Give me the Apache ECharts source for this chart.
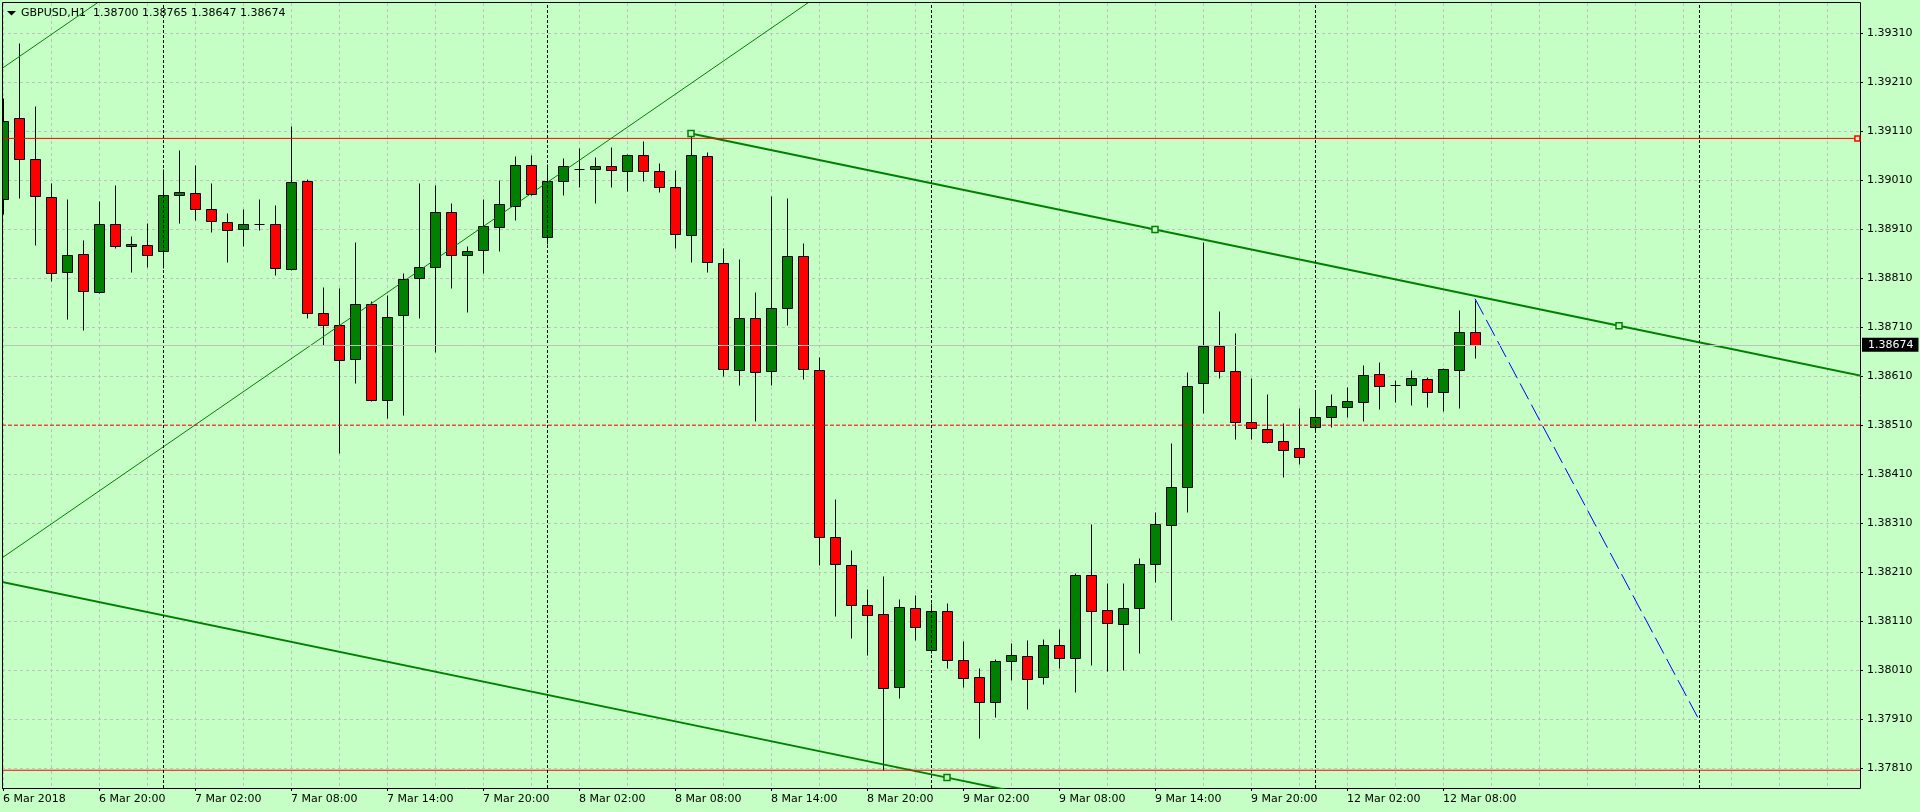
<!DOCTYPE html>
<html><head><meta charset="utf-8">
<script src="https://cdn.jsdelivr.net/npm/echarts@6/dist/echarts.min.js"></script>
<style>html,body{margin:0;padding:0;background:#C6FFC6;} #c{width:1920px;height:812px;}</style>
</head><body><div id="c"></div>
<script>
// ---- data ----
const symbolName = 'GBPUSD,H1';
// hourly bars from 6 Mar 2018 14:00 (index 0) to 12 Mar 2018 10:00 (index 92)
const opens = [1.38971,1.39137,1.39052,1.38976,1.38823,1.38860,1.38782,1.38921,1.38876,1.38878,
1.38866,1.38980,1.38984,1.38951,1.38925,1.38911,1.38920,1.38921,1.38829,1.39009,
1.38739,1.38715,1.38645,1.38758,1.38562,1.38735,1.38811,1.38833,1.38945,1.38858,
1.38868,1.38915,1.38957,1.39041,1.38894,1.39009,1.39033,1.39033,1.39039,1.39029,
1.39062,1.39029,1.38996,1.38898,1.39060,1.38841,1.38623,1.38729,1.38621,1.38749,
1.38856,1.38623,1.38281,1.38224,1.38144,1.38124,1.37975,1.38138,1.38052,1.38130,
1.38030,1.37997,1.37946,1.38028,1.38040,1.37997,1.38062,1.38034,1.38205,1.38132,
1.38105,1.38136,1.38226,1.38307,1.38383,1.38596,1.38671,1.38620,1.38516,1.38503,
1.38478,1.38464,1.38507,1.38527,1.38547,1.38558,1.38615,1.38592,1.38592,1.38605,
1.38578,1.38623,1.38700];
const highs = [1.39177,1.39290,1.39162,1.39003,1.38971,1.38887,1.38967,1.38999,1.38895,1.38922,
1.39032,1.39071,1.39040,1.39005,1.38942,1.38950,1.38971,1.38960,1.39120,1.39013,
1.38792,1.38790,1.38884,1.38763,1.38775,1.38821,1.39005,1.38999,1.38964,1.38875,
1.38971,1.39011,1.39060,1.39062,1.39043,1.39054,1.39076,1.39058,1.39078,1.39064,
1.39090,1.39045,1.39031,1.39105,1.39068,1.38872,1.38849,1.38782,1.38978,1.38974,
1.38882,1.38649,1.38359,1.38255,1.38175,1.38202,1.38155,1.38163,1.38148,1.38148,
1.38069,1.38015,1.38032,1.38065,1.38071,1.38073,1.38094,1.38209,1.38308,1.38187,
1.38189,1.38240,1.38332,1.38474,1.38618,1.38884,1.38743,1.38698,1.38607,1.38573,
1.38515,1.38544,1.38578,1.38573,1.38587,1.38632,1.38639,1.38603,1.38622,1.38609,
1.38627,1.38745,1.38765];
const lows = [1.38940,1.38973,1.38877,1.38804,1.38726,1.38705,1.38780,1.38871,1.38822,1.38832,
1.38830,1.38922,1.38928,1.38904,1.38843,1.38875,1.38909,1.38816,1.38826,1.38728,
1.38673,1.38454,1.38596,1.38559,1.38525,1.38530,1.38728,1.38659,1.38790,1.38741,
1.38821,1.38865,1.38928,1.38980,1.38879,1.38979,1.38996,1.38963,1.38996,1.38988,
1.39008,1.38986,1.38871,1.38843,1.38823,1.38611,1.38592,1.38518,1.38592,1.38715,
1.38605,1.38224,1.38121,1.38076,1.38041,1.37807,1.37954,1.38071,1.38045,1.38015,
1.37976,1.37871,1.37915,1.37990,1.37930,1.37982,1.38015,1.37966,1.38021,1.38009,
1.38011,1.38045,1.38190,1.38113,1.38333,1.38534,1.38607,1.38481,1.38481,1.38474,
1.38404,1.38430,1.38500,1.38507,1.38527,1.38518,1.38543,1.38557,1.38551,1.38547,
1.38539,1.38545,1.38647];
const closes = [1.39131,1.39053,1.38978,1.38821,1.38858,1.38783,1.38921,1.38876,1.38880,1.38858,
1.38980,1.38986,1.38951,1.38927,1.38909,1.38921,1.38920,1.38831,1.39007,1.38739,
1.38715,1.38643,1.38758,1.38562,1.38731,1.38809,1.38833,1.38945,1.38858,1.38866,
1.38916,1.38962,1.39041,1.38982,1.39009,1.39039,1.39033,1.39039,1.39031,1.39062,
1.39029,1.38996,1.38900,1.39062,1.38843,1.38625,1.38729,1.38619,1.38749,1.38856,
1.38625,1.38281,1.38226,1.38144,1.38122,1.37973,1.38140,1.38098,1.38130,1.38030,
1.37995,1.37946,1.38028,1.38042,1.37993,1.38062,1.38034,1.38205,1.38130,1.38107,
1.38136,1.38226,1.38309,1.38383,1.38589,1.38671,1.38620,1.38516,1.38505,1.38476,
1.38460,1.38445,1.38527,1.38549,1.38560,1.38613,1.38590,1.38592,1.38607,1.38578,
1.38625,1.38700,1.38674];

const xTickBars = [0,6,12,18,24,30,36,42,48,54,60,66,72,78,84,90];
const xTickLabels = ['6 Mar 2018','6 Mar 20:00','7 Mar 02:00','7 Mar 08:00','7 Mar 14:00','7 Mar 20:00',
  '8 Mar 02:00','8 Mar 08:00','8 Mar 14:00','8 Mar 20:00','9 Mar 02:00','9 Mar 08:00','9 Mar 14:00',
  '9 Mar 20:00','12 Mar 02:00','12 Mar 08:00'];
const xGridBars = [0,3,6,9,12,15,18,21,24,27,30,33,36,39,42,45,48,51,54,57,60,63,66,69,72,75,78,81,
  84,87,90,93,96,99,102,105,108,111,114];
const yTicks = [1.37810,1.37910,1.38010,1.38110,1.38210,1.38310,1.38410,1.38510,
  1.38610,1.38710,1.38810,1.38910,1.39010,1.39110,1.39210,1.39310];
const separatorBars = [10,34,58,82,106];
const redLevelTop = 1.39095;
const redLevelBottom = 1.37806;
const redDashedLevel = 1.38510;
const lastPrice = 1.38674;
const channelUpper = [[43,1.39105],[72,1.38909],[101,1.38713],[117,1.38605]];
const channelUpperMarks = [43,72,101];
const channelLower = [[-3,1.38210],[59,1.37791],[70,1.37717]];
const channelLowerMarks = [59];
const thinLineA = [[-1,1.392166],[8,1.394189]];
const thinLineB = [[-1,1.382181],[53,1.394320]];
const blueDash = [[92,1.38768],[106,1.37909]];

// ---- chart ----
const BG = '#C6FFC6';
const FONT = 'DejaVu Sans';
const X_MIN = -0.0625, X_MAX = 116.0625;
const Y_MIN = 1.377698, Y_MAX = 1.393712;
const labelMap = {};
xTickBars.forEach((b, i) => { labelMap[b] = xTickLabels[i]; });

const candleData = opens.map((o, i) => [i, o, closes[i], lows[i], highs[i]]);

function renderCandle(params, api) {
  const i = api.value(0);
  const o = api.value(1), c = api.value(2), l = api.value(3), h = api.value(4);
  const pO = api.coord([i, o]), pC = api.coord([i, c]), pL = api.coord([i, l]), pH = api.coord([i, h]);
  const cx = Math.round(pO[0]);
  const half = Math.round(api.size([1, 0])[0] * 0.3125);
  const yTop = Math.round(Math.min(pO[1], pC[1]));
  const yBot = Math.round(Math.max(pO[1], pC[1]));
  const up = c >= o;
  const children = [{
    type: 'line',
    shape: {x1: cx + 0.5, y1: Math.round(pH[1]) + 0.5, x2: cx + 0.5, y2: Math.round(pL[1]) + 0.5},
    style: {stroke: '#000', lineWidth: 1}
  }];
  if (yBot - yTop < 1) {
    children.push({type: 'line',
      shape: {x1: cx - half + 0.5, y1: yTop + 0.5, x2: cx + half + 0.5, y2: yTop + 0.5},
      style: {stroke: '#000', lineWidth: 1}});
  } else {
    children.push({type: 'rect',
      shape: {x: cx - half + 0.5, y: yTop + 0.5, width: 2 * half, height: yBot - yTop},
      style: {fill: up ? '#008000' : '#FF0000', stroke: '#000', lineWidth: 1}});
  }
  return {type: 'group', children};
}

function withMarks(points, markBars, color) {
  return points.map(p => markBars.indexOf(p[0]) >= 0
    ? {value: p, symbol: 'rect', symbolSize: 6,
       itemStyle: {color: BG, borderColor: color, borderWidth: 1.5}}
    : {value: p, symbol: 'none'});
}

const chart = echarts.init(document.getElementById('c'), null, {renderer: 'canvas'});
const last = opens.length - 1;
chart.setOption({
  backgroundColor: BG,
  animation: false,
  title: {
    text: symbolName + '  ' + [opens[last], highs[last], lows[last], closes[last]].map(v => v.toFixed(5)).join(' '),
    left: 21, top: 8, padding: 0,
    textStyle: {fontFamily: FONT, fontSize: 11, fontWeight: 'normal', color: '#000', lineHeight: 11}
  },
  grid: {left: 2, right: 60, top: 3, bottom: 24, containLabel: false, outerBoundsMode: 'none'},
  xAxis: [{
    type: 'value', min: X_MIN, max: X_MAX,
    axisLine: {show: true, onZero: false, lineStyle: {color: '#000', width: 1}},
    axisTick: {show: false, customValues: xGridBars}, axisLabel: {show: false},
    splitLine: {show: true, lineStyle: {color: '#C0C0C0', type: [3, 3], width: 1}}
  }, {
    type: 'value', min: X_MIN, max: X_MAX, position: 'bottom',
    axisLine: {show: false, onZero: false},
    axisTick: {show: true, customValues: xTickBars, length: 3, lineStyle: {color: '#000'}},
    axisLabel: {show: true, customValues: xTickBars, formatter: v => labelMap[v] || '',
      align: 'left', margin: 6, fontFamily: FONT, fontSize: 11, color: '#000'},
    splitLine: {show: false}
  }],
  yAxis: {
    type: 'value', position: 'right', min: Y_MIN, max: Y_MAX, scale: true,
    axisLine: {show: true, onZero: false, lineStyle: {color: '#000', width: 1}},
    axisTick: {show: true, customValues: yTicks, length: 3, lineStyle: {color: '#000'}},
    axisLabel: {show: true, customValues: yTicks, formatter: v => v.toFixed(5), margin: 7,
      fontFamily: FONT, fontSize: 11, color: '#000'},
    splitLine: {show: true, lineStyle: {color: '#C0C0C0', type: [3, 3], width: 1}}
  },
  series: [
    {
      name: 'marks', type: 'line', data: [], z: 1, silent: true,
      markLine: {
        silent: true, symbol: ['none', 'none'], animation: false, precision: 5,
        data: separatorBars.map(b => ({xAxis: b, lineStyle: {color: '#000', type: [3, 2], width: 1}, label: {show: false}}))
          .concat([{yAxis: lastPrice, lineStyle: {color: '#C0C0C0', type: 'solid', width: 1},
            label: {show: true, position: 'end', formatter: lastPrice.toFixed(5), distance: 2,
              backgroundColor: '#000', color: '#fff', fontFamily: FONT, fontSize: 11, lineHeight: 11,
              padding: [2, 5, 1, 6]}}])
      }
    },
    {
      name: 'GBPUSD', type: 'custom', renderItem: renderCandle, data: candleData, clip: true, z: 2,
      encode: {x: 0, y: [1, 2, 3, 4]}
    },
    {type: 'line', z: 3, data: withMarks(channelUpper, channelUpperMarks, '#008000'), symbol: 'none',
      lineStyle: {color: '#008000', width: 2}, clip: true},
    {type: 'line', z: 3, data: withMarks(channelLower, channelLowerMarks, '#008000'), symbol: 'none',
      lineStyle: {color: '#008000', width: 2}, clip: true},
    {type: 'line', z: 3, data: thinLineA, symbol: 'none', showSymbol: false, lineStyle: {color: '#008000', width: 1}, clip: true},
    {type: 'line', z: 3, data: thinLineB, symbol: 'none', showSymbol: false, lineStyle: {color: '#008000', width: 1}, clip: true},
    {type: 'line', z: 3, data: [[X_MIN, redLevelTop], {value: [115.9, redLevelTop], symbol: 'rect', symbolSize: 5,
        itemStyle: {color: BG, borderColor: '#FF0000', borderWidth: 1.5}}, [X_MAX, redLevelTop]],
      symbol: 'none', lineStyle: {color: '#FF0000', width: 1}, clip: true},
    {type: 'line', z: 3, data: [[X_MIN, redLevelBottom], [X_MAX, redLevelBottom]], symbol: 'none',
      showSymbol: false, lineStyle: {color: '#FF0000', width: 1}, clip: true},
    {type: 'line', z: 3, data: [[X_MIN, redDashedLevel], [X_MAX, redDashedLevel]], symbol: 'none',
      showSymbol: false, lineStyle: {color: '#FF0000', width: 1, type: [4, 2]}, clip: true},
    {type: 'line', z: 3, data: blueDash, symbol: 'none', showSymbol: false,
      lineStyle: {color: '#0000FF', width: 1, type: [18, 6]}, clip: true}
  ],
  graphic: [
    {type: 'rect', z: 100, shape: {x: 0, y: 0, width: 2, height: 812}, style: {fill: BG}, silent: true},
    {type: 'rect', z: 100, shape: {x: 0, y: 0, width: 1862, height: 2}, style: {fill: BG}, silent: true},
    {type: 'line', z: 101, shape: {x1: 2.5, y1: 2.5, x2: 1860.5, y2: 2.5}, style: {stroke: '#000', lineWidth: 1}, silent: true},
    {type: 'line', z: 101, shape: {x1: 2.5, y1: 2.5, x2: 2.5, y2: 788.5}, style: {stroke: '#000', lineWidth: 1}, silent: true},
    {type: 'polygon', z: 101, shape: {points: [[7, 11], [16, 11], [11.5, 15.5]]}, style: {fill: '#000'}, silent: true}
  ]
});
</script></body></html>
